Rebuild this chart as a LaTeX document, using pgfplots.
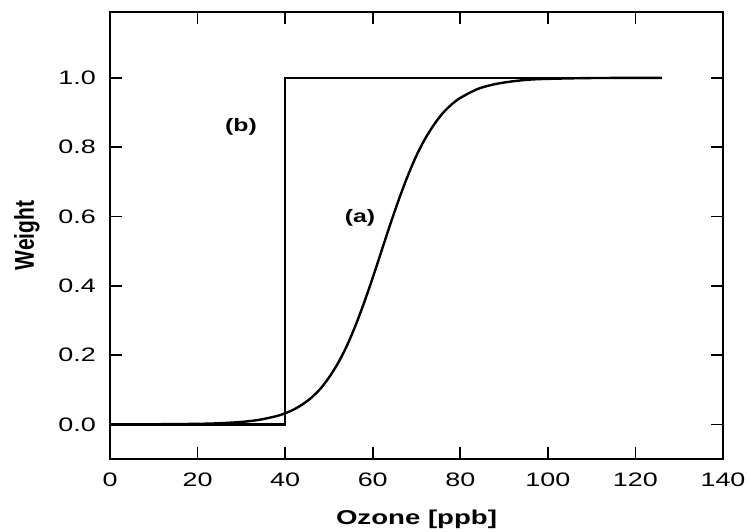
\documentclass[border=0pt]{standalone}
\usepackage{fontspec}
\setmainfont{Liberation Sans}
\newfontfamily\wide{Liberation Sans}[FakeStretch=1.38]
\usepackage{graphicx}
\usepackage{pgfplots}
\pgfplotsset{compat=1.18}
\begin{document}
\begin{tikzpicture}
\begin{axis}[name=ax, width=613pt, height=447pt, scale only axis,
  xmin=0, xmax=140, ymin=-0.1, ymax=1.19,
  xtick={0,20,...,140}, ytick={0,0.2,0.4,0.6,0.8,1.0},
  yticklabel style={/pgf/number format/fixed, /pgf/number format/fixed zerofill, /pgf/number format/precision=1},
  tick align=inside, major tick length=12pt,
  tick style={line width=1.6pt, black},
  axis line style={line width=2.8pt},
  /pgf/number format/assume math mode=true,
  tick label style={font=\wide\fontsize{19.5}{22}\selectfont, inner sep=0pt},
  xticklabel style={yshift=-14pt},
  yticklabel style={xshift=-14pt},
  xlabel={\wide\bfseries\fontsize{20}{24}\selectfont Ozone [ppb]},
  xlabel style={at={(axis description cs:0.5,0)}, anchor=base, yshift=-65pt},
  ylabel={\bfseries\fontsize{21}{24}\selectfont\scalebox{1}[1.3]{Weight}},
  ylabel style={at={(axis description cs:0,0.5)}, anchor=center, rotate=0, yshift=83pt},
  clip=false]
\addplot[black, line width=2.4pt] coordinates {
 (0,0) (40,0) (40,1.0) (126,1.0)};
\addplot[black, line width=2.4pt, smooth] coordinates {
 (0,0.0000) (10,0.0003) (20,0.0015) (25,0.0032) (30,0.007) (34,0.0129)
 (38,0.0237) (40,0.032) (42,0.043) (44,0.058) (46,0.077) (48,0.102)
 (50,0.135) (52,0.175) (54,0.224) (56,0.283) (58,0.350) (60,0.423)
 (62,0.500) (64,0.577) (66,0.650) (68,0.717) (70,0.776) (72,0.825)
 (74,0.865) (76,0.898) (78,0.923) (80,0.942) (84,0.968) (88,0.982)
 (92,0.990) (96,0.995) (100,0.997) (110,0.9994) (126,1.0)};
\node[font=\wide\bfseries\fontsize{18}{20}\selectfont] at (axis cs:57.1,0.596) {(a)};
\node[font=\wide\bfseries\fontsize{18}{20}\selectfont] at (axis cs:29.9,0.858) {(b)};
\end{axis}
\pgfresetboundingbox
\path[use as bounding box] ([xshift=-110pt,yshift=-72pt]ax.south west) rectangle ([xshift=26pt,yshift=12pt]ax.north east);
\end{tikzpicture}
\end{document}
